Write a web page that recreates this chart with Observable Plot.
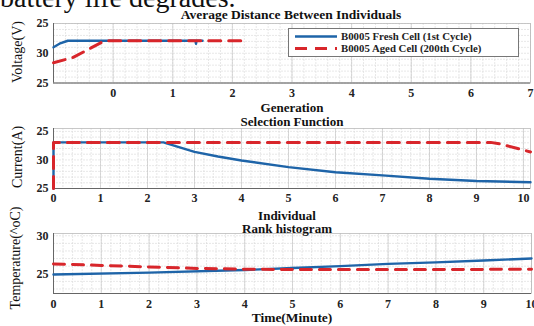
<!DOCTYPE html>
<html>
<head>
<meta charset="utf-8">
<script src="https://cdn.jsdelivr.net/npm/d3@7"></script>
<script src="https://cdn.jsdelivr.net/npm/@observablehq/plot@0.6"></script>
<style>
  html, body { margin: 0; padding: 0; background: #fff; }
  #wrap { position: relative; width: 534px; height: 326px; overflow: hidden; background: #fff; font-family: "Liberation Serif", "DejaVu Serif", serif; color: #111; }
  .abs { position: absolute; white-space: nowrap; }
  .ctr { transform: translate(-50%, -50%); }
  .ttl { font-weight: bold; font-size: 13px; line-height: 1; }
  .ylab { font-size: 14px; line-height: 1; transform: translate(-50%, -50%) rotate(-90deg); }
  .panel { position: absolute; left: 0; }
</style>
</head>
<body>
<div id="wrap"></div>
<script>
// ---------- data ----------
const seriesNames = ["B0005 Fresh Cell (1st Cycle)", "B0005 Aged Cell (200th Cycle)"];

// Panel 1: Voltage
const p1FreshX = [-1, -0.9, -0.76, 1.38, 1.39, 1.40, 1.5];
const p1FreshY = [31.0, 31.6, 32.1, 32.1, 31.6, 32.1, 32.1];
const p1AgedX = [-1, -0.67, -0.37, -0.2, -0.13, 2.27];
const p1AgedY = [28.4, 29.3, 30.9, 31.8, 32.1, 32.1];
const p1XTicks = [0, 1, 2, 3, 4, 5, 6, 7];
const p1YTicks = [25, 30, 35];
const p1YTickLabels = ["25", "30", "25"];

// Panel 2: Current
const p2FreshX = [0, 0, 2.34, 2.6, 3, 3.5, 4, 5, 6, 7, 8, 9, 10.15];
const p2FreshY = [25, 33.07, 33.07, 32.4, 31.4, 30.6, 29.9, 28.75, 27.85, 27.3, 26.7, 26.3, 26.1];
const p2AgedX = [0, 0, 9.3, 9.5, 10.15];
const p2AgedY = [25, 33.07, 33.07, 32.8, 31.4];
const p2XTicks = [0, 1, 2, 3, 4, 5, 6, 7, 8, 9, 10];
const p2YTicks = [25, 30, 35];
const p2YTickLabels = ["25", "30", "25"];

// Panel 3: Temperature
const p3FreshX = [0, 2, 4, 5, 6, 7, 8, 9, 10];
const p3FreshY = [24.9, 25.15, 25.5, 25.75, 26.0, 26.3, 26.5, 26.75, 27.0];
const p3AgedX = [0, 1, 2, 3, 4, 5, 6, 8, 10];
const p3AgedY = [26.3, 26.1, 25.9, 25.7, 25.6, 25.55, 25.55, 25.55, 25.6];
const p3XTicks = [0, 1, 2, 3, 4, 5, 6, 7, 8, 9, 10];
const p3YTicks = [25, 30];
const p3YTickLabels = ["25", "30"];

// ---------- styling ----------
const BLUE = "#1e64a8";
const RED = "#d8262b";

const wrap = document.getElementById("wrap");

function addText(txt, x, y, cls, extraStyle) {
  const d = document.createElement("div");
  d.className = "abs " + cls;
  d.style.left = x + "px";
  d.style.top = y + "px";
  if (extraStyle) Object.assign(d.style, extraStyle);
  d.textContent = txt;
  wrap.appendChild(d);
  return d;
}

function toRows(xs, ys) { return xs.map((x, i) => ({x, y: ys[i]})); }

function makePanel(cfg) {
  const [x0, x1] = cfg.xDomain;
  const [y0, y1] = cfg.yDomain;
  const minorX = d3.range(Math.ceil(x0 / 0.2) * 0.2, x1 + 1e-9, 0.2);
  const minorY = d3.range(Math.ceil(y0), y1 + 1e-9, 1);
  const fresh = toRows(cfg.freshX, cfg.freshY);
  const aged = toRows(cfg.agedX, cfg.agedY);
  const chart = Plot.plot({
    width: 534,
    height: cfg.height,
    marginLeft: 53,
    marginRight: cfg.marginRight,
    marginTop: cfg.marginTop,
    marginBottom: cfg.marginBottom,
    style: {fontFamily: "Liberation Serif, serif", fontSize: "12px", fontWeight: "bold", background: "transparent", overflow: "visible", color: "#222"},
    x: {domain: cfg.xDomain, ticks: cfg.xTicks, tickSize: 0, tickPadding: cfg.xPad, label: null, tickFormat: d => String(d)},
    y: {domain: cfg.yDomain, ticks: cfg.yTicks, tickSize: 0, tickPadding: 5, label: null,
        tickFormat: d => cfg.yLabels[cfg.yTicks.indexOf(d)]},
    marks: [
      Plot.ruleX(minorX, {stroke: "#d6d6d6", strokeWidth: 0.6, strokeDasharray: "2,1"}),
      Plot.ruleY(minorY, {stroke: "#d6d6d6", strokeWidth: 0.6, strokeDasharray: "2,1"}),
      Plot.ruleX(cfg.xTicks, {stroke: "#c8c8c8", strokeWidth: 0.7}),
      Plot.frame({stroke: "#bbb", strokeWidth: 0.8}),
      Plot.ruleX([x0], {stroke: "#666", strokeWidth: 1}),
      Plot.ruleY([y0], {stroke: "#666", strokeWidth: 1}),
      Plot.line(fresh, {x: "x", y: "y", stroke: BLUE, strokeWidth: 2.4}),
      Plot.line(aged, {x: "x", y: "y", stroke: RED, strokeWidth: 3, strokeDasharray: cfg.dash})
    ]
  });
  chart.classList.add("panel");
  chart.style.top = cfg.top + "px";
  wrap.appendChild(chart);
}

// leaked text from page
addText("battery life degrades.", 0, -16, "", {fontSize: "28px", lineHeight: "1", fontFamily: "Liberation Serif, serif"});

makePanel({top: 0, height: 100, marginTop: 23, marginBottom: 17.5, marginRight: 4, xPad: 5,
  xDomain: [-1, 7], yDomain: [25, 35], xTicks: p1XTicks, yTicks: p1YTicks, yLabels: p1YTickLabels,
  freshX: p1FreshX, freshY: p1FreshY, agedX: p1AgedX, agedY: p1AgedY, dash: "12,8"});

makePanel({top: 110, height: 100, marginTop: 18, marginBottom: 22, marginRight: 4, xPad: 5,
  xDomain: [0, 10.15], yDomain: [25, 35.5], xTicks: p2XTicks, yTicks: p2YTicks, yLabels: p2YTickLabels,
  freshX: p2FreshX, freshY: p2FreshY, agedX: p2AgedX, agedY: p2AgedY, dash: "12,8"});

makePanel({top: 210, height: 116, marginTop: 23, marginBottom: 33, marginRight: 3, xPad: 6,
  xDomain: [0, 10], yDomain: [22.4, 30.3], xTicks: p3XTicks, yTicks: p3YTicks, yLabels: p3YTickLabels,
  freshX: p3FreshX, freshY: p3FreshY, agedX: p3AgedX, agedY: p3AgedY, dash: "11,8"});

// titles / axis labels
addText("Average Distance Between Individuals", 291, 15, "ctr ttl", {fontSize: "13.5px"});
addText("Generation", 292, 107, "ctr ttl");
addText("Selection Function", 292, 120.5, "ctr ttl");
addText("Individual", 287, 214.5, "ctr ttl");
addText("Rank histogram", 287, 228, "ctr ttl");
addText("Time(Minute)", 292, 318, "ctr ttl", {fontSize: "13.5px"});
addText("Voltage(V)", 18, 52, "ylab");
addText("Current(A)", 18, 157, "ylab");
addText("Temperature(^oC)", 16, 258, "ylab");

// legend
const lg = d3.create("svg").attr("width", 232).attr("height", 30)
  .style("position", "absolute").style("left", "288px").style("top", "28px");
lg.append("rect").attr("x", 0.5).attr("y", 0.5).attr("width", 230).attr("height", 28)
  .attr("fill", "#fff").attr("stroke", "#777").attr("stroke-width", 1);
const lgColors = [BLUE, RED];
const lgDash = [null, "12,8"];
const lgWidth = [2.4, 3];
seriesNames.forEach((name, i) => {
  const yy = 8.5 + i * 12;
  lg.append("line").attr("x1", 7).attr("x2", 49).attr("y1", yy).attr("y2", yy)
    .attr("stroke", lgColors[i]).attr("stroke-width", lgWidth[i]).attr("stroke-dasharray", lgDash[i]);
  lg.append("text").attr("x", 53).attr("y", yy).attr("dy", "0.35em")
    .attr("font-family", "Liberation Serif, serif").attr("font-weight", "bold").attr("font-size", 10.8)
    .attr("fill", "#222").text(name);
});
wrap.appendChild(lg.node());
</script>
</body>
</html>
